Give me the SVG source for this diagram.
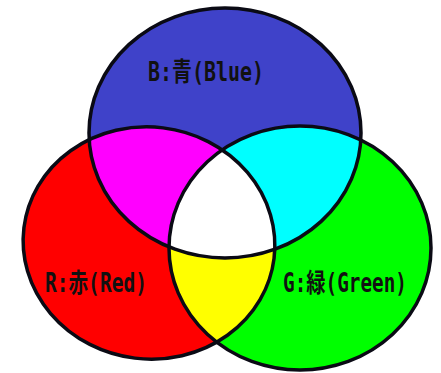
<svg xmlns="http://www.w3.org/2000/svg" width="441" height="373" viewBox="0 0 441 373">
<style>
.lbl{font-family:"DejaVu Sans Mono","Noto Sans CJK JP",monospace;font-weight:bold;font-size:20px;fill:#111}
.edge{fill:none;stroke:#0a0a14;stroke-width:3.5}
</style>
<defs>
<ellipse id="eB" cx="225" cy="133" rx="136" ry="125"/>
<ellipse id="eR" cx="149" cy="243" rx="126" ry="116" transform="rotate(7 149 243)"/>
<ellipse id="eG" cx="300" cy="248" rx="131" ry="122"/>
<clipPath id="cB"><use href="#eB"/></clipPath>
<clipPath id="cR"><use href="#eR"/></clipPath>
<clipPath id="cG"><use href="#eG"/></clipPath>
</defs>
<rect width="441" height="373" fill="#ffffff"/>
<g id="blue"><use href="#eB" fill="#3f42c9"/></g>
<g id="red"><use href="#eR" fill="#ff0000"/></g>
<g id="green"><use href="#eG" fill="#00ff00"/></g>
<g id="magenta" clip-path="url(#cB)"><use href="#eR" fill="#ff00ff"/></g>
<g id="cyan" clip-path="url(#cB)"><use href="#eG" fill="#00ffff"/></g>
<g id="yellow" clip-path="url(#cR)"><use href="#eG" fill="#ffff00"/></g>
<g id="white" clip-path="url(#cB)"><g clip-path="url(#cR)"><use href="#eG" fill="#ffffff"/></g></g>
<g id="outlines">
<use href="#eB" class="edge"/>
<use href="#eR" class="edge"/>
<use href="#eG" class="edge"/>
</g>
<g id="labels">
<text class="lbl" transform="scale(1 1.3)" x="148" y="62.3" textLength="116" lengthAdjust="spacingAndGlyphs">B:青(Blue)</text>
<text class="lbl" transform="scale(1 1.3)" x="45" y="224.6" textLength="102" lengthAdjust="spacingAndGlyphs">R:赤(Red)</text>
<text class="lbl" transform="scale(1 1.3)" x="283" y="224.6" textLength="124" lengthAdjust="spacingAndGlyphs">G:緑(Green)</text>
</g>
</svg>
